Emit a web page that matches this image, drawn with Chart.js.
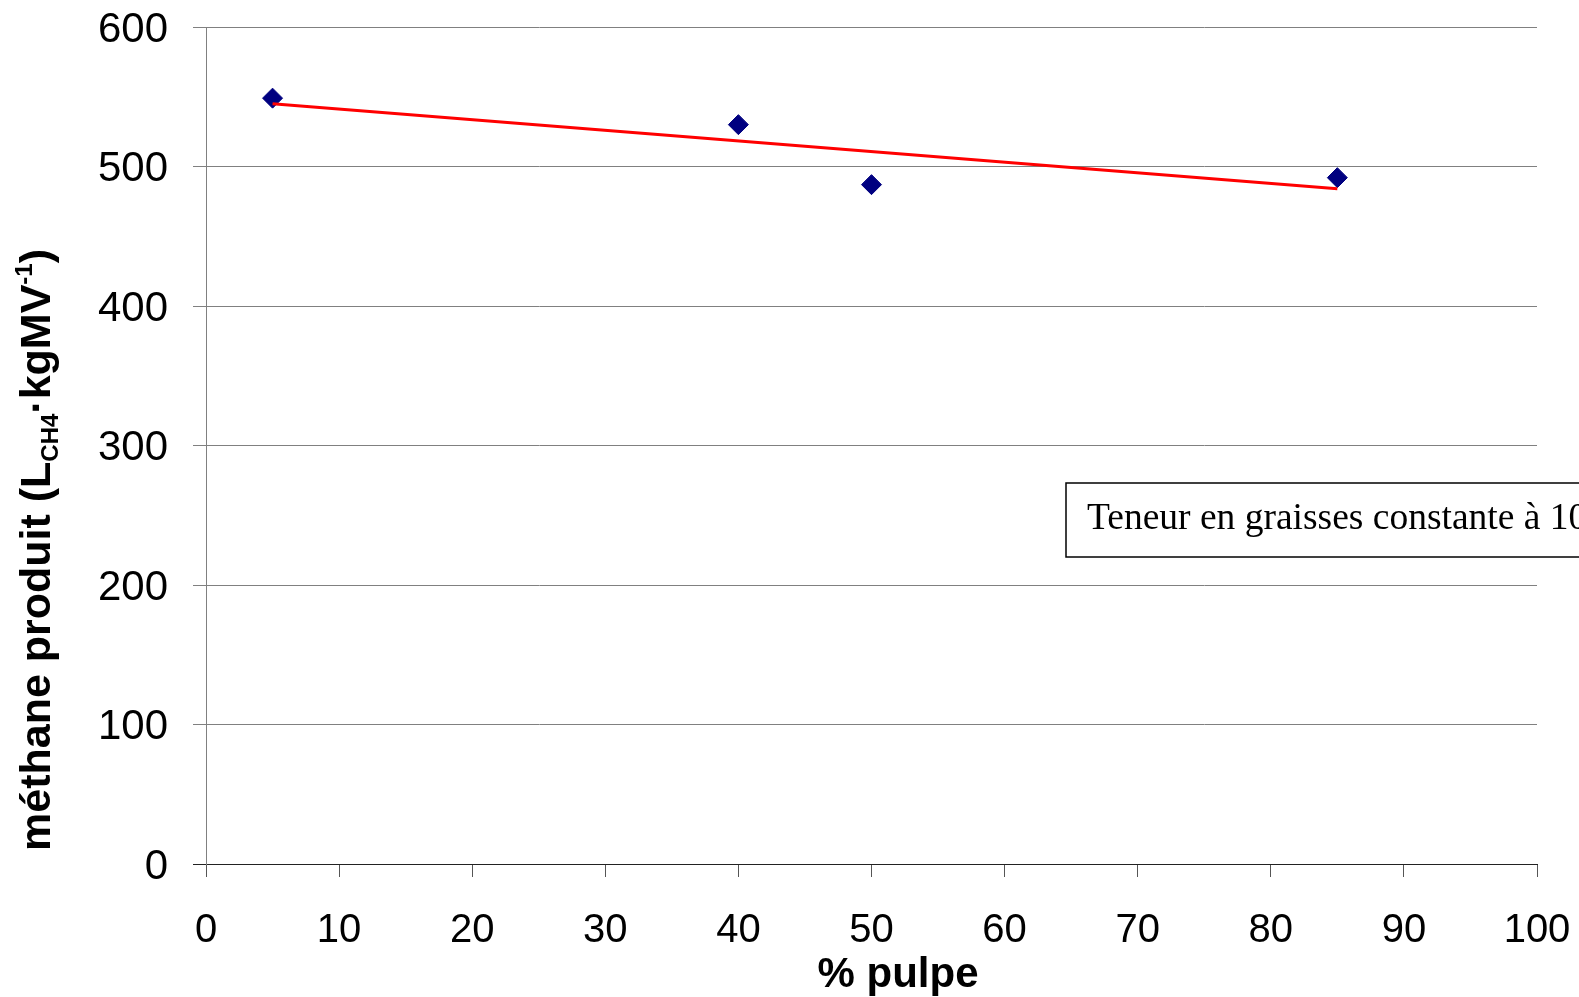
<!DOCTYPE html>
<html>
<head>
<meta charset="utf-8">
<title>méthane produit</title>
<script src="https://cdn.jsdelivr.net/npm/chart.js@4.4.0/dist/chart.umd.min.js"></script>
<style>
    body { margin: 0; background: #fff; }
    #chart-area { display: block; }
</style>
</head>
<body>
<canvas id="chart-area" width="1579" height="997"></canvas>
<script>
// values
var pulpe = [5, 40, 50, 85];
var methane = [549, 530, 487, 492];
var trendX = [5, 85];
var trendY = [545, 484];
var xTicks = [0, 10, 20, 30, 40, 50, 60, 70, 80, 90, 100];
var yTicks = [0, 100, 200, 300, 400, 500, 600];

var xTitle = '% pulpe';
var yTitleParts = [
    {text: 'méthane produit (L', kind: 'normal'},
    {text: 'CH4', kind: 'sub'},
    {text: '·kgMV', kind: 'normal'},
    {text: '-1', kind: 'sup'},
    {text: ')', kind: 'normal'}
];
var boxText = 'Teneur en graisses constante à 10%';

var sansFont = '"Liberation Sans", Arial, sans-serif';

// keep tick label overhang from eating into the plot area
var noPadding = function (scale) {
    scale.paddingTop = 0;
    scale.paddingBottom = 0;
    scale.paddingLeft = 0;
    scale.paddingRight = 0;
};

var titlesPlugin = {
    id: 'titles',
    afterDraw: function (chart) {
        var ctx = chart.ctx;
        ctx.save();
        ctx.fillStyle = '#000';

        // x title
        ctx.font = 'bold 42px ' + sansFont;
        ctx.textAlign = 'center';
        ctx.textBaseline = 'alphabetic';
        ctx.fillText(xTitle, 898, 987);

        // y title with sub / superscript, rotated
        var mainFont = 'bold 43px ' + sansFont;
        var smallFont = 'bold 24px ' + sansFont;
        var total = 0;
        yTitleParts.forEach(function (p) {
            ctx.font = p.kind == 'normal' ? mainFont : smallFont;
            p.w = ctx.measureText(p.text).width;
            total += p.w;
        });
        ctx.translate(50, 550);
        ctx.rotate(-Math.PI / 2);
        ctx.textAlign = 'left';
        var x = -total / 2;
        yTitleParts.forEach(function (p) {
            var dy = 0;
            if (p.kind == 'sub') dy = 8;
            if (p.kind == 'sup') dy = -18;
            ctx.font = p.kind == 'normal' ? mainFont : smallFont;
            ctx.fillText(p.text, x, dy);
            x += p.w;
        });
        ctx.restore();

        // text box, runs off the right edge like the original
        ctx.save();
        ctx.fillStyle = '#fff';
        ctx.fillRect(1066, 483, 700, 74);
        ctx.strokeStyle = '#000';
        ctx.lineWidth = 1.5;
        ctx.strokeRect(1066, 483, 700, 74);
        ctx.fillStyle = '#000';
        ctx.font = '37.5px "Liberation Serif", "Times New Roman", serif';
        ctx.textAlign = 'left';
        ctx.textBaseline = 'alphabetic';
        ctx.fillText(boxText, 1087, 529);
        ctx.restore();
    }
};

var config = {
    type: 'scatter',
    data: {
        datasets: [{
            label: 'méthane',
            data: pulpe.map(function (v, i) { return {x: v, y: methane[i]}; }),
            pointStyle: 'rectRot',
            pointRadius: 10,
            pointHoverRadius: 10,
            backgroundColor: '#000080',
            borderColor: '#000080',
            borderWidth: 1,
            showLine: false,
            order: 1
        }, {
            label: 'tendance',
            data: trendX.map(function (v, i) { return {x: v, y: trendY[i]}; }),
            showLine: true,
            borderColor: '#ff0000',
            borderWidth: 3,
            pointRadius: 0,
            fill: false,
            order: 0
        }]
    },
    options: {
        responsive: false,
        animation: false,
        devicePixelRatio: 1,
        layout: {padding: {top: 27, right: 42, left: 0, bottom: 0}},
        plugins: {
            legend: {display: false},
            tooltip: {enabled: false},
            title: {display: false}
        },
        scales: {
            x: {
                type: 'linear',
                min: 0,
                max: 100,
                afterBuildTicks: function (scale) {
                    scale.ticks = xTicks.map(function (v) { return {value: v}; });
                },
                afterFit: function (scale) {
                    scale.height = 133;
                    noPadding(scale);
                },
                grid: {drawOnChartArea: false, drawTicks: true, tickLength: 13, color: '#555', lineWidth: 1},
                border: {display: true, color: '#222', width: 1},
                ticks: {color: '#000', font: {family: sansFont, size: 40}, padding: 30, maxRotation: 0, autoSkip: false}
            },
            y: {
                type: 'linear',
                min: 0,
                max: 600,
                afterBuildTicks: function (scale) {
                    scale.ticks = yTicks.map(function (v) { return {value: v}; });
                },
                afterFit: function (scale) {
                    scale.width = 206;
                    noPadding(scale);
                },
                grid: {
                    drawTicks: true,
                    tickLength: 13,
                    lineWidth: 1,
                    color: function (c) { return c.tick && c.tick.value === 0 ? '#222' : '#808080'; }
                },
                border: {display: true, color: '#808080', width: 1},
                ticks: {color: '#000', font: {family: sansFont, size: 42}, padding: 25, labelOffset: 3, autoSkip: false}
            }
        }
    },
    plugins: [titlesPlugin]
};

var ctx = document.getElementById('chart-area').getContext('2d');
var myChart = new Chart(ctx, config);
</script>
</body>
</html>
